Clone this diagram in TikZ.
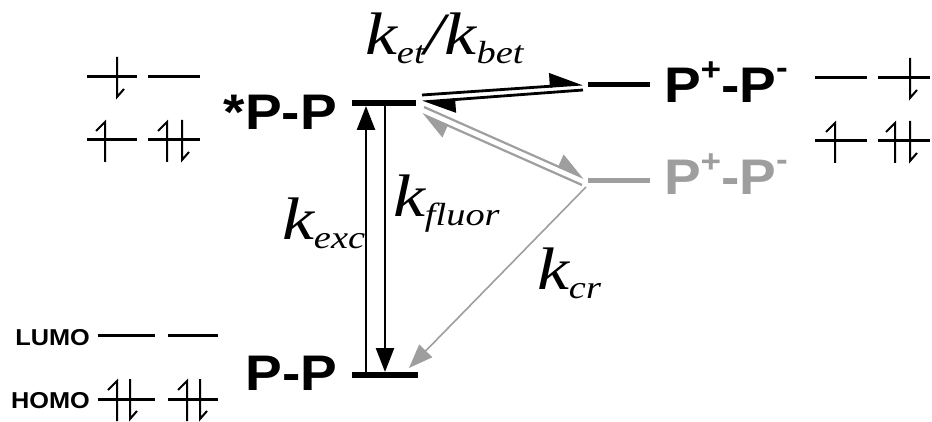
\documentclass[tikz,border=0pt]{standalone}
\usepackage{fontspec}
\setmainfont{Liberation Serif}
\newfontfamily\statefont[FakeStretch=1.1]{Liberation Sans}
\newfontfamily\ratefont[FakeStretch=1.2]{Liberation Serif}
\usetikzlibrary{arrows.meta}
\definecolor{csgray}{gray}{0.62}
\newcommand{\kr}[1]{k\raisebox{-9pt}{\fontsize{32}{32}\selectfont #1}}
\newcommand{\ionpair}{P\raisebox{22pt}{\fontsize{32}{32}\selectfont +}-P\raisebox{24pt}{\fontsize{32}{32}\selectfont -}}
\tikzset{
  spinup/.pic={\draw[spin] (0,22) -- (0,-18) -- (-9,-9);},
  spindn/.pic={\draw[spin] (0,-20) -- (0,20) -- (7,12);}
}
\begin{document}
\begin{tikzpicture}[x=1pt,y=-1pt,
  lvl/.style={fill=black,inner sep=0,outer sep=0,minimum width=#1,minimum height=6pt},
  statelbl/.style={font=\statefont\bfseries\fontsize{50}{50}\selectfont,inner sep=0,outer sep=0},
  ratelbl/.style={font=\ratefont\itshape\fontsize{60}{60}\selectfont,inner sep=0,outer sep=0},
  mo/.style={font=\statefont\bfseries\fontsize{23}{23}\selectfont,inner sep=0},
  orb/.style={line width=3pt},
  spin/.style={line width=2pt},
  vert/.style={line width=2.5pt,-{Triangle[length=24pt,width=18pt]}},
  etline/.style={line width=2.8pt,-{Triangle[left,length=30pt,width=26pt]}},
  bcsline/.style={csgray,line width=2.2pt,-{Triangle[left,length=26pt,width=26pt]}},
  crline/.style={csgray,line width=1.6pt,-{Triangle[length=24pt,width=18pt]}}]
  \useasboundingbox (0,0) rectangle (932,422);
  % energy levels
  \node[lvl=64pt] (ex) at (384,103) {};
  \node[lvl=66pt] (gr) at (385,375) {};
  \node[lvl=62pt,minimum height=5pt] (cs) at (619,85) {};
  \node[lvl=62pt,minimum height=5pt,fill=csgray] (csg) at (619,181) {};
  \node[statelbl,anchor=base east] (exl) at (337,130) {*P-P};
  \node[statelbl,anchor=base east] (grl) at (337,390) {P-P};
  \node[statelbl,anchor=base west] (csl) at (664,103) {\ionpair};
  \node[statelbl,anchor=base west,text=csgray] (csgl) at (664,195) {\ionpair};
  % rates
  \node[ratelbl,anchor=base west] (ket) at (365,55) {\kr{et}/\kr{bet}};
  \node[ratelbl,anchor=base west] (kexc) at (282,240) {\kr{exc}};
  \node[ratelbl,anchor=base west] (kfl) at (393,217) {\kr{fluor}};
  \node[ratelbl,anchor=base west] (kcr) at (537,290) {\kr{cr}};
  \draw[vert] ([xshift=14pt]gr.north west) -- ([xshift=14pt]ex.south west);
  \draw[vert] ([xshift=33pt]ex.south west) -- ([xshift=33pt]gr.north west);
  \draw[etline] ([shift={(6pt,8pt)}]ex.east) -- ([shift={(-5pt,1pt)}]cs.west);
  \draw[etline] ([shift={(-5pt,-5pt)}]cs.west) -- ([shift={(6pt,1pt)}]ex.east);
  \draw[bcsline] ([shift={(8pt,-4pt)}]ex.east) -- ([shift={(-4pt,3pt)}]csg.west);
  \draw[bcsline] ([shift={(-6pt,-4pt)}]csg.west) -- ([shift={(6pt,-11pt)}]ex.east);
  \draw[crline] ([shift={(-2pt,-6pt)}]csg.west) -- ([shift={(-9pt,4pt)}]gr.north east);
  % orbitals, left
  \draw[orb] (87,77) -- (137,77);
  \draw[orb] (148,77) -- (200,77);
  \pic at (117,77) {spindn};
  \draw[orb] (87,140) -- (137,140);
  \draw[orb] (148,140) -- (200,140);
  \pic at (105,140) {spinup};
  \pic at (167,140) {spinup};
  \pic at (182,140) {spindn};
  % orbitals, right
  \draw[orb] (815,78) -- (867,78);
  \draw[orb] (878,78) -- (930,78);
  \pic at (910,78) {spindn};
  \draw[orb] (815,141) -- (867,141);
  \draw[orb] (878,141) -- (930,141);
  \pic at (835,141) {spinup};
  \pic at (895,141) {spinup};
  \pic at (910,141) {spindn};
  % ground state orbitals
  \node[mo,anchor=base east] (lumo) at (90,345) {LUMO};
  \node[mo,anchor=base east] (homo) at (90,408) {HOMO};
  \draw[orb] (98,335) -- (155,335);
  \draw[orb] (168,335) -- (218,335);
  \draw[orb] (98,399) -- (155,399);
  \draw[orb] (168,399) -- (218,399);
  \pic at (117,399) {spinup};
  \pic at (130,399) {spindn};
  \pic at (187,399) {spinup};
  \pic at (200,399) {spindn};
\end{tikzpicture}
\end{document}
